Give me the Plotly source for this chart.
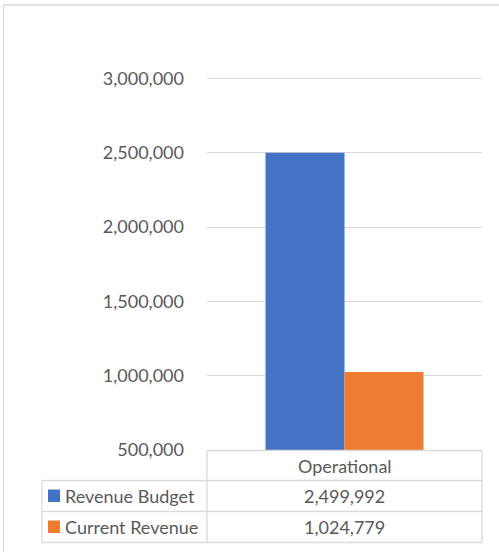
import plotly.graph_objects as go

categories = ["Operational"]
series_names = ["Revenue Budget", "Current Revenue"]
revenue_budget = [2499992]
current_revenue = [1024779]
series_colors = ["#4472C4", "#ED7D31"]
y_ticks = [500000, 1000000, 1500000, 2000000, 2500000, 3000000]

W, H = 499, 552
FONT = "Lato"
TXT = "#595959"
GRID = "#D9D9D9"


def px(x):
    return x / W


def py(y):
    return 1 - y / H


fig = go.Figure()
for name, vals, col in zip(series_names, [revenue_budget, current_revenue], series_colors):
    fig.add_trace(go.Bar(x=categories, y=vals, name=name, marker=dict(color=col, line=dict(width=0))))

shapes = []


def line(x0, y0, x1, y1, color=GRID, w=1.3):
    shapes.append(dict(type="line", xref="paper", yref="paper",
                       x0=px(x0), y0=py(y0), x1=px(x1), y1=py(y1),
                       line=dict(color=color, width=w)))


# outer chart border
line(3.5, 5, 3.5, 552)
line(3.5, 5, 499, 5)

# data table grid
tl, tc, tr = 42, 207, 482
r0, r1, r2, r3 = 450.5, 480.5, 511.5, 542.5
line(tc, r0, tr, r0)
line(tl, r1, tr, r1)
line(tl, r2, tr, r2)
line(tl, r3, tr, r3)
line(tl, r1, tl, r3)
line(tc, r0, tc, r3)
line(tr, r0, tr, r3)

FS = 18
annotations = []
annotations.append(dict(x=px((tc + tr) / 2), y=py((r0 + r1) / 2), xref="paper", yref="paper",
                        text=categories[0], showarrow=False, xanchor="center", yanchor="middle",
                        font=dict(family=FONT, size=FS, color=TXT)))
rows = [(r1, r2), (r2, r3)]
for (ya, yb), name, vals, col in zip(rows, series_names, [revenue_budget, current_revenue], series_colors):
    yc = (ya + yb) / 2
    shapes.append(dict(type="rect", xref="paper", yref="paper",
                       x0=px(48), x1=px(60), y0=py(yc - 6.5), y1=py(yc + 6),
                       fillcolor=col, line=dict(width=0)))
    annotations.append(dict(x=px(63), y=py(yc), xref="paper", yref="paper",
                            text=name, showarrow=False, xanchor="left", yanchor="middle",
                            font=dict(family=FONT, size=FS, color=TXT)))
    annotations.append(dict(x=px((tc + tr) / 2), y=py(yc), xref="paper", yref="paper",
                            text=f"{vals[0]:,}", showarrow=False, xanchor="center", yanchor="middle",
                            font=dict(family=FONT, size=FS, color=TXT)))

# y scale: 500,000 at y=450, 3,000,000 at y=78.5 ; pad range slightly so top gridline draws
pix_per_unit = (450 - 78.5) / 2500000
ytop = 3010000
top_px = 450 - (ytop - 500000) * pix_per_unit

fig.update_layout(
    width=W, height=H,
    margin=dict(l=0, r=0, t=0, b=0, autoexpand=False),
    paper_bgcolor="white", plot_bgcolor="white",
    showlegend=False,
    barmode="group", bargap=0.4255, bargroupgap=0,
    shapes=shapes, annotations=annotations,
    xaxis=dict(domain=[px(207), px(482)], showticklabels=False, showgrid=False,
               showline=False, zeroline=False, automargin=False),
    yaxis=dict(domain=[py(450), py(top_px)], range=[500000, ytop],
               tickvals=y_ticks, tickformat=",", showgrid=True, gridcolor=GRID, gridwidth=1.3,
               zeroline=False, showline=False, ticks="", automargin=False,
               ticklabelstandoff=22,
               tickfont=dict(family=FONT, size=FS, color=TXT)),
)

fig.write_html("out.html", config={"displayModeBar": False},
               post_script="document.body.style.margin='0';")
